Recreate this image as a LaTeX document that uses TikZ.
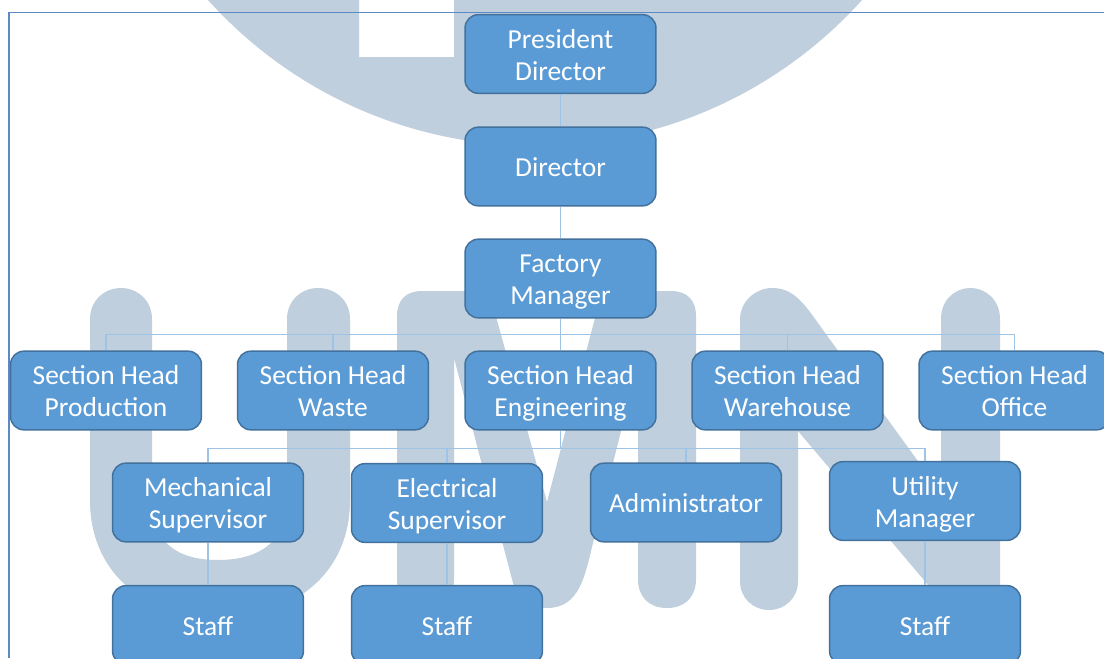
\documentclass[tikz,border=0pt]{standalone}
\usepackage{fontspec}
\setmainfont{Carlito}
\definecolor{boxfill}{HTML}{5B9BD5}
\definecolor{boxline}{HTML}{41719C}
\definecolor{connline}{HTML}{9DC3E6}
\definecolor{framec}{HTML}{5B8AC6}
\definecolor{wm}{HTML}{BFCFDD}
\tikzset{
  orgbox/.style={draw=boxline,line width=1.1pt,fill=boxfill,rounded corners=10pt,
    minimum width=143.2pt,minimum height=59pt,inner sep=0pt,align=center,text=white,
    font=\fontsize{20.6}{24}\selectfont,execute at begin node={\rule{0pt}{22.8pt}}},
  twoline/.style={orgbox,execute at begin node={\rule{0pt}{46.8pt}}},
  conn/.style={draw=connline,line width=0.8pt}
}
\begin{document}
\begin{tikzpicture}[x=0.75pt,y=-0.75pt]
\useasboundingbox (0,0) rectangle (1104,658);
\fill[white] (0,0) rectangle (1104,658);
\begin{scope}
\clip (0,0) rectangle (1104,658);
% watermark: circle with square notch
\fill[wm,even odd rule] (535,-294) circle[radius=329.8pt] (359,-10) rectangle (454,57);
% U
\fill[wm] (90,319) .. controls (90,300) and (105,288) .. (121,288)
  .. controls (137,288) and (152,300) .. (152,319) -- (152,500)
  .. controls (152,545) and (180,560) .. (218,560)
  .. controls (255,560) and (287,545) .. (287,500) -- (287,319)
  .. controls (287,300) and (302,288) .. (318,288)
  .. controls (335,288) and (350,300) .. (350,319) -- (350,500)
  .. controls (350,570) and (300,615) .. (218,620)
  .. controls (140,615) and (90,570) .. (90,500) -- cycle;
% M
\fill[wm] (397,579) -- (397,316) .. controls (397,300) and (406,291) .. (422,291)
  -- (489,291) -- (547,502) -- (602,291) -- (671,291)
  .. controls (687,291) and (696,300) .. (696,316) -- (696,579)
  .. controls (696,597) and (685,608) .. (667,608)
  .. controls (649,608) and (638,597) .. (638,579) -- (638,363)
  -- (593,543) .. controls (585,575) and (580,608) .. (547,608)
  .. controls (530,608) and (522,605) .. (513,583) -- (454,358) -- (454,579)
  .. controls (454,597) and (443,608) .. (425,608)
  .. controls (408,608) and (397,597) .. (397,579) -- cycle;
% N
\fill[wm] (740,320) .. controls (740,300) and (757,288) .. (772,288)
  .. controls (795,288) and (805,305) .. (823,330) -- (941,493) -- (941,319)
  .. controls (941,300) and (955,288) .. (970,288)
  .. controls (986,288) and (1000,300) .. (1000,319) -- (1000,590)
  .. controls (1000,610) and (985,620) .. (970,620)
  .. controls (960,620) and (950,612) .. (945,605) -- (798,431) -- (798,581)
  .. controls (798,598) and (785,610) .. (769,610)
  .. controls (753,610) and (740,598) .. (740,581) -- cycle;
\end{scope}
% frame
\draw[framec,line width=1.1pt] (1104,12.5) -- (9,12.5) -- (9,658);
% boxes
\node[twoline] (pd) at (560.5,54) {President\strut\\Director\strut};
\node[orgbox] (dir) at (560.5,166.5) {Director\strut};
\node[twoline] (fm) at (560.5,278.5) {Factory\strut\\Manager\strut};
\node[twoline] (s1) at (106,390.5) {Section Head\strut\\Production\strut};
\node[twoline] (s2) at (333,390.5) {Section Head\strut\\Waste\strut};
\node[twoline] (s3) at (560.5,390.5) {Section Head\strut\\Engineering\strut};
\node[twoline] (s4) at (787.5,390.5) {Section Head\strut\\Warehouse\strut};
\node[twoline] (s5) at (1014.5,390.5) {Section Head\strut\\Office\strut};
\node[twoline] (m1) at (208,502.5) {Mechanical\strut\\Supervisor\strut};
\node[twoline] (m2) at (447,503) {Electrical\strut\\Supervisor\strut};
\node[orgbox] (m3) at (686,502.5) {Administrator\strut};
\node[twoline] (m4) at (925,501) {Utility\strut\\Manager\strut};
\node[orgbox] (t1) at (208,625) {Staff\strut};
\node[orgbox] (t2) at (447,625) {Staff\strut};
\node[orgbox] (t4) at (925,625) {Staff\strut};
% junctions
\coordinate (ja) at (560.5,334.5);
\coordinate (jb) at (560.5,448.5);
% connectors
\draw[conn] (pd.south) -- (dir.north);
\draw[conn] (dir.south) -- (fm.north);
\draw[conn] (fm.south) -- (s3.north);
\draw[conn] (ja) -| (s1.north);
\draw[conn] (ja) -| (s2.north);
\draw[conn] (ja) -| (s4.north);
\draw[conn] (ja) -| (s5.north);
\draw[conn] (s3.south) -- (jb);
\draw[conn] (jb) -| (m1.north);
\draw[conn] (jb) -| (m2.north);
\draw[conn] (jb) -| (m3.north);
\draw[conn] (jb) -| (m4.north);
\draw[conn] (m1.south) -- (t1.north);
\draw[conn] (m2.south) -- (t2.north);
\draw[conn] (m4.south) -- (t4.north);
\end{tikzpicture}
\end{document}
